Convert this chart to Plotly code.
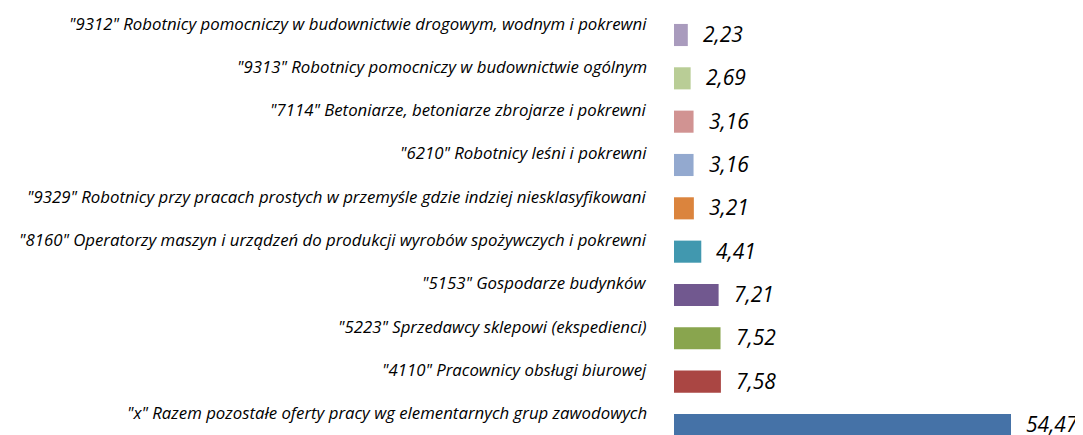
import plotly.graph_objects as go

categories = [
    '"x" Razem pozostałe oferty pracy wg elementarnych grup zawodowych',
    '"4110" Pracownicy obsługi biurowej',
    '"5223" Sprzedawcy sklepowi (ekspedienci)',
    '"5153" Gospodarze budynków',
    '"8160" Operatorzy maszyn i urządzeń do produkcji wyrobów spożywczych i pokrewni',
    '"9329" Robotnicy przy pracach prostych w przemyśle gdzie indziej niesklasyfikowani',
    '"6210" Robotnicy leśni i pokrewni',
    '"7114" Betoniarze, betoniarze zbrojarze i pokrewni',
    '"9313" Robotnicy pomocniczy w budownictwie ogólnym',
    '"9312" Robotnicy pomocniczy w budownictwie drogowym, wodnym i pokrewni',
]
values = [54.47, 7.58, 7.52, 7.21, 4.41, 3.21, 3.16, 3.16, 2.69, 2.23]
value_labels = ["54,47", "7,58", "7,52", "7,21", "4,41", "3,21", "3,16", "3,16", "2,69", "2,23"]
colors = ["#4572A7", "#AA4643", "#89A54E", "#71588F", "#4198AF",
          "#DB843D", "#93A9CF", "#D19392", "#B9CD96", "#A99BBD"]

FONT = "Open Sans"
idx = list(range(len(categories)))

fig = go.Figure()
fig.add_trace(go.Bar(
    x=values, y=idx, orientation="h",
    marker=dict(color=colors, line=dict(width=0)),
    width=0.51,
    cliponaxis=False, hoverinfo="skip",
))

for i, c in zip(idx, categories):
    fig.add_annotation(
        x=0, y=i, xref="x", yref="y", text=c, showarrow=False,
        xanchor="right", yanchor="middle", xshift=-25, yshift=12,
        font=dict(family=FONT, size=16.8, color="#000", style="italic"),
    )

for i, v, t in zip(idx, values, value_labels):
    fig.add_annotation(
        x=v, y=i, xref="x", yref="y", text=t, showarrow=False,
        xanchor="left", yanchor="middle", xshift=13, yshift=1,
        font=dict(family=FONT, size=21, color="#000", style="italic"),
    )

fig.update_layout(
    width=1075, height=427,
    margin=dict(l=666, r=0, t=0, b=0, autoexpand=False),
    paper_bgcolor="white", plot_bgcolor="white",
    showlegend=False,
    xaxis=dict(range=[0, 54.47 * 409 / 337], visible=False, fixedrange=True),
    yaxis=dict(range=[-0.231, 9.623], visible=False, fixedrange=True),
)

fig.write_html("out.html")
